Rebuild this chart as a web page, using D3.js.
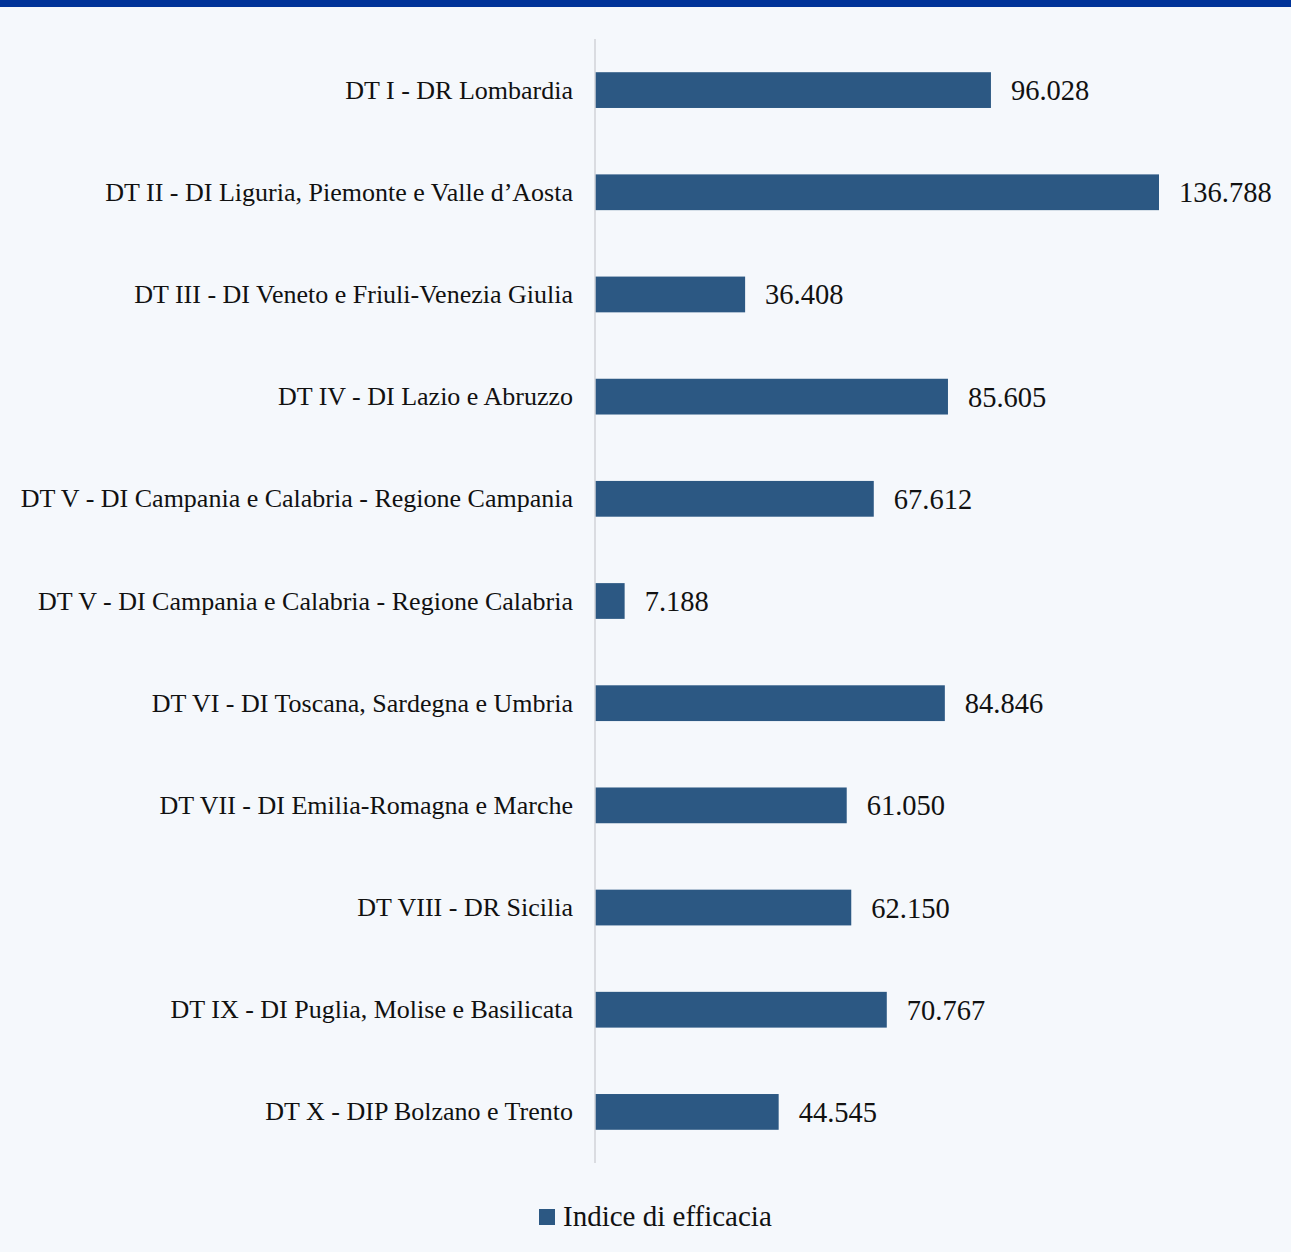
<!DOCTYPE html>
<html>
<head>
<meta charset="utf-8">
<script src="https://cdn.jsdelivr.net/npm/d3@7"></script>
<style>
  html, body { margin: 0; padding: 0; background: #f5f8fc; }
  svg { display: block; }
  text { font-family: "Liberation Serif", "Times New Roman", serif; fill: #111; }
</style>
</head>
<body>
<svg id="chart" width="1291" height="1252"></svg>
<script>
const categories = [
  "DT I - DR Lombardia",
  "DT II - DI Liguria, Piemonte e Valle d’Aosta",
  "DT III - DI Veneto e Friuli-Venezia Giulia",
  "DT IV - DI Lazio e Abruzzo",
  "DT V - DI Campania e Calabria - Regione Campania",
  "DT V - DI Campania e Calabria - Regione Calabria",
  "DT VI - DI Toscana, Sardegna e Umbria",
  "DT VII - DI Emilia-Romagna e Marche",
  "DT VIII - DR Sicilia",
  "DT IX - DI Puglia, Molise e Basilicata",
  "DT X - DIP Bolzano e Trento"
];
const values = [96.028, 136.788, 36.408, 85.605, 67.612, 7.188, 84.846, 61.050, 62.150, 70.767, 44.545];
const seriesName = "Indice di efficacia";

const svg = d3.select("#chart");
const W = 1291, H = 1252;
svg.append("rect").attr("width", W).attr("height", H).attr("fill", "#f5f8fc");
svg.append("rect").attr("width", W).attr("height", 7).attr("fill", "#003399");

const x0 = 595;
const x = d3.scaleLinear().domain([0, 136.788]).range([x0, 1159]);
const y = d3.scaleBand().domain(categories).range([39, 1163]).paddingInner(0.65).paddingOuter(0.325);

const fmt = v => v.toFixed(3);

svg.append("g").selectAll("rect").data(values).join("rect")
  .attr("x", x(0))
  .attr("y", (d, i) => y(categories[i]))
  .attr("width", d => x(d) - x(0))
  .attr("height", y.bandwidth())
  .attr("fill", "#2c5883");

// axis line
svg.append("line").attr("x1", x0).attr("x2", x0).attr("y1", 39).attr("y2", 1163)
  .attr("stroke", "#d0d3d8").attr("stroke-width", 1.5);

svg.append("g").selectAll("text").data(categories).join("text")
  .attr("x", 573)
  .attr("y", d => y(d) + y.bandwidth() / 2)
  .attr("dy", "0.33em")
  .attr("text-anchor", "end")
  .attr("font-size", 26)
  .text(d => d);

svg.append("g").selectAll("text").data(values).join("text")
  .attr("x", d => x(d) + 20)
  .attr("y", (d, i) => y(categories[i]) + y.bandwidth() / 2)
  .attr("dy", "0.35em")
  .attr("font-size", 28.5)
  .text(d => fmt(d));

const lg = svg.append("g");
lg.append("rect").attr("x", 539).attr("y", 1209).attr("width", 16).attr("height", 16).attr("fill", "#2c5883");
lg.append("text").attr("x", 563).attr("y", 1226).attr("font-size", 29).text(seriesName);
</script>
</body>
</html>
